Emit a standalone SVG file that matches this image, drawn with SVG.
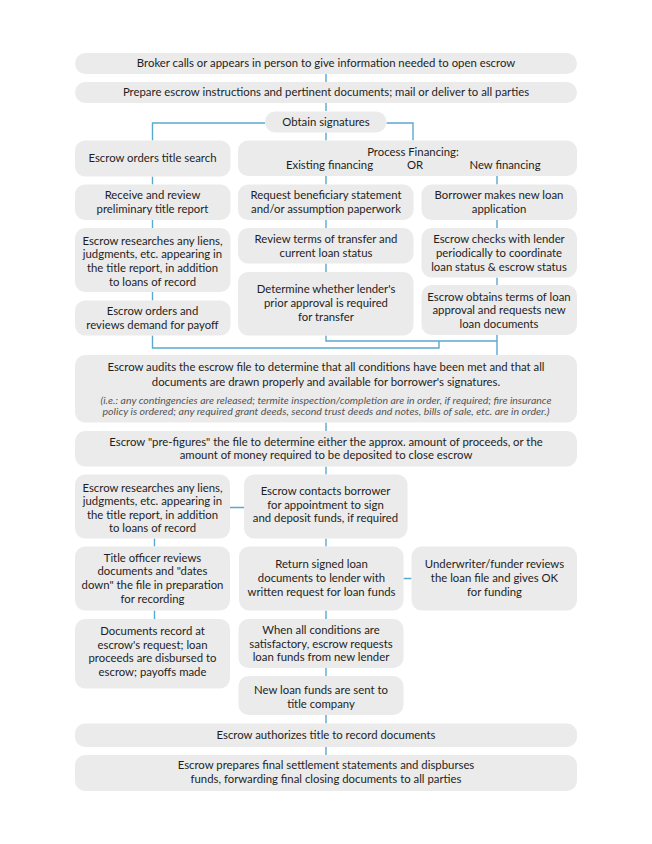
<svg xmlns="http://www.w3.org/2000/svg" width="652" height="844" viewBox="0 0 652 844">
<style>
.b{fill:#ebebeb}
text{font-family:Lato,"Noto Sans","Liberation Sans",sans-serif;font-size:11.35px;fill:#1e1e1e;text-anchor:middle}
.i{font-style:italic;font-size:9.6px;fill:#555}
.c{fill:none;stroke:#5aa9d0;stroke-width:1.4}
</style>
<rect width="652" height="844" fill="#fff"/>
<g id="connectors" class="c">
<path d="M326 74V82M326 103V111M326 132.5V140.5"/>
<path d="M265 123H152.5V140.5M386.5 123H413V140.5"/>
<path d="M152.5 176.5V184.5M152.5 220V228M152.5 292V300.5"/>
<path d="M326 176V184.5M326 220V228M326 263.5V272"/>
<path d="M497 176V184.5M497 220V228M497 277.5V285"/>
<path d="M152.5 335.5V348H439V341"/>
<path d="M326 335.5V341H497M497 335V355"/>
<path d="M326 422.5V431M326 466.5V474.5M230 507.5H244"/>
<path d="M154.5 538.5V546.5M154.5 610.5V619M326 538.5V546.5M403.5 578.5H411.5"/>
<path d="M326 610.5V619M326 668V676M326 715V723.5M326 747V755"/>
</g>
<g id="n1"><rect class="b" x="75" y="53" width="502" height="21" rx="10.5"/><text x="326" y="67">Broker calls or appears in person to give information needed to open escrow</text></g>
<g id="n2"><rect class="b" x="75" y="82" width="502" height="21" rx="10.5"/><text x="326" y="96">Prepare escrow instructions and pertinent documents; mail or deliver to all parties</text></g>
<g id="n3"><rect class="b" x="265" y="111.5" width="121.5" height="21" rx="10.5"/><text x="326" y="126">Obtain signatures</text></g>
<g id="n4"><rect class="b" x="75" y="140.5" width="155.5" height="36" rx="10"/><text x="152.5" y="161.5">Escrow orders title search</text></g>
<g id="n5"><rect class="b" x="238" y="140.5" width="339" height="35.5" rx="10"/><text x="413" y="155.5">Process Financing:</text><text x="329.5" y="169">Existing financing</text><text x="415" y="169">OR</text><text x="505" y="169">New financing</text></g>
<g id="n6"><rect class="b" x="75" y="184.5" width="155.5" height="35.5" rx="10"/><text x="152.5" y="199">Receive and review</text><text x="152.5" y="213">preliminary title report</text></g>
<g id="n7"><rect class="b" x="238" y="184.5" width="175.5" height="35.5" rx="10"/><text x="326" y="199">Request beneficiary statement</text><text x="326" y="213">and/or assumption paperwork</text></g>
<g id="n8"><rect class="b" x="421.5" y="184.5" width="155.5" height="35.5" rx="10"/><text x="499" y="199">Borrower makes new loan</text><text x="499" y="213">application</text></g>
<g id="n9"><rect class="b" x="75" y="228" width="155.5" height="64" rx="10"/><text x="152.5" y="244.5">Escrow researches any liens,</text><text x="152.5" y="258">judgments, etc. appearing in</text><text x="152.5" y="272">the title report, in addition</text><text x="152.5" y="285.5">to loans of record</text></g>
<g id="n10"><rect class="b" x="238" y="228" width="175.5" height="35.5" rx="10"/><text x="326" y="243">Review terms of transfer and</text><text x="326" y="256.5">current loan status</text></g>
<g id="n11"><rect class="b" x="421.5" y="228" width="155.5" height="49.5" rx="10"/><text x="499" y="243">Escrow checks with lender</text><text x="499" y="257">periodically to coordinate</text><text x="499" y="270.5">loan status &amp; escrow status</text></g>
<g id="n12"><rect class="b" x="75" y="300.5" width="155.5" height="35" rx="10"/><text x="152.5" y="314.5">Escrow orders and</text><text x="152.5" y="328.5">reviews demand for payoff</text></g>
<g id="n13"><rect class="b" x="238" y="272" width="175.5" height="63.5" rx="10"/><text x="326" y="293">Determine whether lender's</text><text x="326" y="307">prior approval is required</text><text x="326" y="321">for transfer</text></g>
<g id="n14"><rect class="b" x="421.5" y="285" width="155.5" height="50" rx="10"/><text x="499" y="300.5">Escrow obtains terms of loan</text><text x="499" y="314">approval and requests new</text><text x="499" y="328">loan documents</text></g>
<g id="n15"><rect class="b" x="75" y="355" width="502" height="67.5" rx="10"/><text x="326" y="371">Escrow audits the escrow file to determine that all conditions have been met and that all</text><text x="326" y="386">documents are drawn properly and available for borrower's signatures.</text><text class="i" x="326" y="403.5" textLength="451" lengthAdjust="spacingAndGlyphs">(i.e.: any contingencies are released; termite inspection/completion are in order, if required; fire insurance</text><text class="i" x="326" y="414.5" textLength="447" lengthAdjust="spacingAndGlyphs">policy is ordered; any required grant deeds, second trust deeds and notes, bills of sale, etc. are in order.)</text></g>
<g id="n16"><rect class="b" x="75" y="431" width="502" height="35.5" rx="10"/><text x="326" y="445.5">Escrow "pre-figures" the file to determine either the approx. amount of proceeds, or the</text><text x="326" y="459">amount of money required to be deposited to close escrow</text></g>
<g id="n17"><rect class="b" x="75" y="474.5" width="155" height="64" rx="10"/><text x="152.5" y="491.5">Escrow researches any liens,</text><text x="152.5" y="505">judgments, etc. appearing in</text><text x="152.5" y="518.5">the title report, in addition</text><text x="152.5" y="531.5">to loans of record</text></g>
<g id="n18"><rect class="b" x="244" y="474.5" width="163.5" height="64" rx="10"/><text x="325.5" y="495">Escrow contacts borrower</text><text x="325.5" y="509">for appointment to sign</text><text x="325.5" y="522">and deposit funds, if required</text></g>
<g id="n19"><rect class="b" x="75" y="546.5" width="155" height="64" rx="10"/><text x="152.5" y="561.5">Title officer reviews</text><text x="152.5" y="575">documents and "dates</text><text x="152.5" y="589">down" the file in preparation</text><text x="152.5" y="603">for recording</text></g>
<g id="n20"><rect class="b" x="239" y="546.5" width="164.5" height="64" rx="10"/><text x="321.5" y="568">Return signed loan</text><text x="321.5" y="581.5">documents to lender with</text><text x="321.5" y="595.5">written request for loan funds</text></g>
<g id="n21"><rect class="b" x="411.5" y="546.5" width="165.5" height="64" rx="10"/><text x="494.5" y="568">Underwriter/funder reviews</text><text x="494.5" y="581.5">the loan file and gives OK</text><text x="494.5" y="595.5">for funding</text></g>
<g id="n22"><rect class="b" x="75" y="619" width="155" height="69.5" rx="10"/><text x="152.5" y="635">Documents record at</text><text x="152.5" y="648.5">escrow's request; loan</text><text x="152.5" y="662">proceeds are disbursed to</text><text x="152.5" y="676">escrow; payoffs made</text></g>
<g id="n23"><rect class="b" x="238.5" y="619" width="165" height="49" rx="10"/><text x="321" y="634">When all conditions are</text><text x="321" y="648">satisfactory, escrow requests</text><text x="321" y="661">loan funds from new lender</text></g>
<g id="n24"><rect class="b" x="238.5" y="676" width="165" height="39" rx="10"/><text x="321" y="694">New loan funds are sent to</text><text x="321" y="707.5">title company</text></g>
<g id="n25"><rect class="b" x="75" y="723.5" width="502" height="23.5" rx="10"/><text x="326" y="739">Escrow authorizes title to record documents</text></g>
<g id="n26"><rect class="b" x="75" y="755" width="502" height="36" rx="10"/><text x="326" y="769">Escrow prepares final settlement statements and dispburses</text><text x="326" y="783">funds, forwarding final closing documents to all parties</text></g>
</svg>
